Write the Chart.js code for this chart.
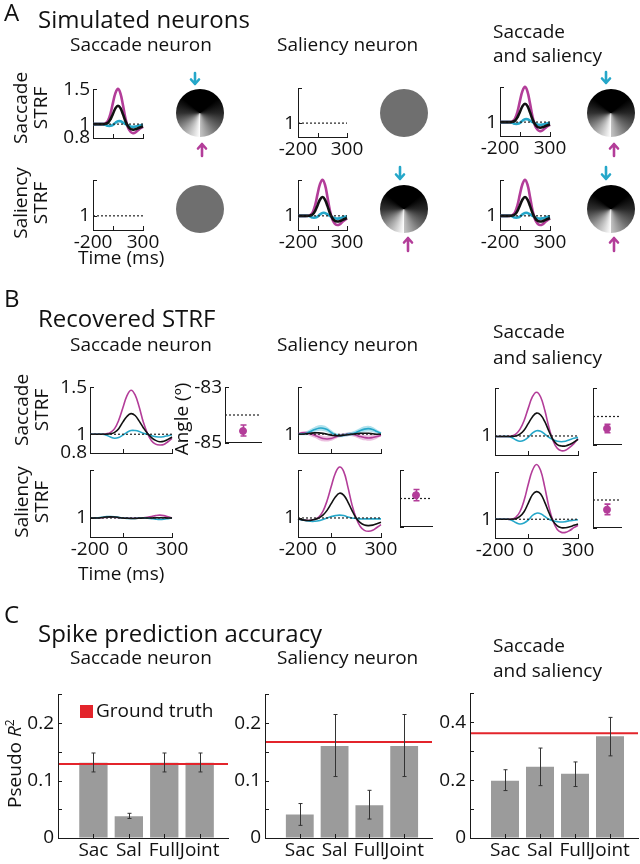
<!DOCTYPE html>
<html>
<head>
<meta charset="utf-8">
<script src="https://cdn.jsdelivr.net/npm/chart.js@4.4.1/dist/chart.umd.min.js"></script>
<style>
    body { margin: 0; width: 640px; height: 864px; position: relative; overflow: hidden; background: #fff;
           font-family: 'Open Sans', sans-serif; color: #111; }
    canvas { position: absolute; }
    .t { position: absolute; white-space: nowrap; line-height: 1; }
    .rot { position: absolute; white-space: nowrap; text-align: center; line-height: 1.05; transform: rotate(-90deg); }
</style>
</head>
<body>
<canvas id="deco" width="640" height="864" style="left:0;top:0"></canvas>
<script>
// ---- data ----
const strfTimes = [-200, -175, -150, -125, -100, -75, -50, -25, 0, 25, 50, 75, 100, 125, 150, 175, 200, 225, 250, 275, 300];
const refLevel = 1;
const strfYTicks = [0.8, 1, 1.5];
const strfXTicks = [-200, 0, 300];

// A: simulated kernels (same kernel in every tuned subplot)
const simMagenta = [1, 1, 1, 1, 1, 1.01, 1.05, 1.15, 1.31, 1.45, 1.51, 1.44, 1.27, 1.08, 0.95, 0.89, 0.87, 0.88, 0.91, 0.94, 0.96];
const simBlack = [1, 1, 1, 1, 1, 1.005, 1.02, 1.07, 1.15, 1.23, 1.265, 1.23, 1.14, 1.04, 0.97, 0.93, 0.92, 0.925, 0.94, 0.955, 0.97];
const simCyan = [1, 1, 1, 1, 1, 0.99, 0.975, 0.975, 0.99, 1.02, 1.04, 1.04, 1.02, 1.0, 0.98, 0.965, 0.96, 0.965, 0.975, 0.985, 0.99];

// B: recovered kernels
const recSacSacMagenta = [1, 1, 1, 1, 1.005, 1.02, 1.06, 1.15, 1.28, 1.41, 1.47, 1.42, 1.29, 1.13, 1.01, 0.93, 0.895, 0.885, 0.89, 0.92, 0.955];
const recSacSacBlack = [1, 1, 1, 1, 1, 1.005, 1.02, 1.06, 1.13, 1.19, 1.22, 1.2, 1.14, 1.07, 1.01, 0.965, 0.935, 0.92, 0.925, 0.945, 0.97];
const recSacSacCyan = [1, 1, 1, 1, 0.99, 0.97, 0.957, 0.965, 0.99, 1.02, 1.04, 1.04, 1.03, 1.01, 1.0, 0.985, 0.975, 0.97, 0.975, 0.985, 0.995];

const recSacSalMagenta = [1, 1, 1, 1.003, 1.006, 1.008, 1.006, 1.003, 1, 0.998, 0.997, 0.998, 1, 1.003, 1.008, 1.015, 1.025, 1.03, 1.025, 1.012, 1.0];
const recSacSalBlack = [1, 1, 1, 1.005, 1.01, 1.012, 1.01, 1.005, 1, 0.997, 0.995, 0.995, 0.997, 1, 1, 1, 1.002, 1.003, 1.002, 1, 1];
const recSacSalCyan = [1, 1, 1.003, 1.008, 1.014, 1.016, 1.013, 1.006, 1, 0.996, 0.994, 0.995, 0.998, 1, 0.998, 0.993, 0.988, 0.985, 0.987, 0.993, 1.0];

const recSalSacMagenta = [1.005, 1.015, 1.015, 1.005, 0.99, 0.97, 0.955, 0.95, 0.955, 0.97, 0.985, 0.995, 1.0, 1.0, 0.99, 0.975, 0.965, 0.96, 0.965, 0.975, 0.99];
const recSalSacBlack = [1.0, 1.0, 1.005, 1.01, 1.015, 1.015, 1.01, 1.0, 0.99, 0.985, 0.985, 0.99, 0.995, 1.0, 1.005, 1.01, 1.01, 1.01, 1.005, 1.0, 1.0];
const recSalSacCyan = [1.0, 1.005, 1.01, 1.03, 1.05, 1.065, 1.065, 1.05, 1.02, 0.995, 0.985, 0.99, 1.0, 1.005, 1.02, 1.04, 1.055, 1.06, 1.05, 1.03, 1.01];
const recSalSacSpread = [0.01, 0.015, 0.02, 0.025, 0.028, 0.03, 0.03, 0.028, 0.025, 0.02, 0.018, 0.018, 0.02, 0.022, 0.025, 0.028, 0.03, 0.03, 0.028, 0.022, 0.015];

const recSalSalMagenta = [0.99, 0.98, 0.975, 0.975, 0.985, 1.01, 1.07, 1.18, 1.33, 1.47, 1.535, 1.49, 1.33, 1.14, 1.0, 0.91, 0.87, 0.86, 0.87, 0.9, 0.93];
const recSalSalBlack = [0.99, 0.98, 0.975, 0.975, 0.985, 1.0, 1.03, 1.08, 1.15, 1.22, 1.26, 1.24, 1.17, 1.08, 1.0, 0.95, 0.925, 0.92, 0.925, 0.94, 0.955];
const recSalSalCyan = [0.99, 0.98, 0.97, 0.965, 0.965, 0.97, 0.985, 1.0, 1.015, 1.025, 1.03, 1.025, 1.01, 1.0, 0.995, 0.99, 0.99, 0.99, 0.99, 0.99, 0.99];

const recBothSacMagenta = [0.995, 0.995, 0.995, 0.995, 1.0, 1.02, 1.07, 1.16, 1.29, 1.41, 1.46, 1.41, 1.27, 1.09, 0.95, 0.87, 0.845, 0.85, 0.88, 0.92, 0.97];
const recBothSacBlack = [0.995, 0.995, 0.995, 0.995, 0.995, 1.0, 1.02, 1.06, 1.13, 1.2, 1.24, 1.22, 1.15, 1.05, 0.96, 0.91, 0.895, 0.895, 0.91, 0.935, 0.965];
const recBothSacCyan = [0.995, 0.995, 0.995, 0.995, 0.985, 0.96, 0.945, 0.955, 0.985, 1.03, 1.055, 1.05, 1.02, 0.985, 0.96, 0.945, 0.94, 0.945, 0.96, 0.975, 0.985];

const recBothSalMagenta = [1, 1, 1, 1, 1, 1.02, 1.08, 1.2, 1.37, 1.52, 1.585, 1.52, 1.34, 1.13, 0.98, 0.89, 0.86, 0.86, 0.88, 0.91, 0.935];
const recBothSalBlack = [1, 1, 1, 1, 1, 1.005, 1.03, 1.08, 1.17, 1.26, 1.295, 1.27, 1.18, 1.07, 0.98, 0.93, 0.91, 0.91, 0.92, 0.935, 0.95];
const recBothSalCyan = [1, 1, 1, 1, 0.99, 0.965, 0.95, 0.96, 0.99, 1.04, 1.065, 1.06, 1.03, 1.0, 0.985, 0.975, 0.97, 0.975, 0.985, 0.99, 0.995];

// B: recovered preferred angle (mean, low, high), true angle at -84
const angleLevel = -84;
const angleYTicks = [-85, -83];
const angleSacSac = [-84.58, -84.76, -84.36];
const angleSalSal = [-83.88, -84.08, -83.68];
const angleBothSac = [-84.43, -84.58, -84.28];
const angleBothSal = [-84.35, -84.53, -84.15];

// C: spike prediction accuracy
const barCats = ['Sac', 'Sal', 'Full', 'Joint'];
const sacR2 = [0.131, 0.038, 0.131, 0.131];
const sacR2Lo = [0.115, 0.034, 0.115, 0.115];
const sacR2Hi = [0.148, 0.043, 0.148, 0.148];
const sacTruth = 0.129;
const salR2 = [0.041, 0.160, 0.057, 0.160];
const salR2Lo = [0.022, 0.107, 0.033, 0.107];
const salR2Hi = [0.060, 0.215, 0.083, 0.215];
const salTruth = 0.167;
const bothR2 = [0.198, 0.246, 0.222, 0.352];
const bothR2Lo = [0.164, 0.181, 0.178, 0.284];
const bothR2Hi = [0.236, 0.311, 0.263, 0.417];
const bothTruth = 0.362;
const r2TicksSmall = [0, 0.05, 0.1, 0.15, 0.2, 0.25];
const r2TicksLarge = [0, 0.1, 0.2, 0.3, 0.4, 0.5];

const MAGENTA = '#b33d99';
const CYAN = '#25a7c9';
const AXIS = '#1a1a1a';

Chart.defaults.font.family = "'Open Sans', sans-serif";
Chart.defaults.font.size = 19;
Chart.defaults.color = '#111';

// inward tick marks, like the matlab axes
const inTicks = {
    id: 'inTicks',
    afterDatasetsDraw(chart, args, o) {
        const ctx = chart.ctx, a = chart.chartArea;
        ctx.save();
        ctx.strokeStyle = AXIS;
        ctx.lineWidth = 1;
        if (o.y !== false) {
            chart.scales.y.ticks.forEach(t => {
                const p = Math.round(chart.scales.y.getPixelForValue(t.value)) + 0.5;
                ctx.beginPath(); ctx.moveTo(a.left, p); ctx.lineTo(a.left + 4, p); ctx.stroke();
            });
        }
        if (o.x !== false) {
            chart.scales.x.ticks.forEach(t => {
                const p = Math.round(chart.scales.x.getPixelForValue(t.value)) + 0.5;
                ctx.beginPath(); ctx.moveTo(p, a.bottom); ctx.lineTo(p, a.bottom - 4); ctx.stroke();
            });
        }
        ctx.restore();
    }
};

// horizontal reference line + error bars
const extras = {
    id: 'extras',
    afterDatasetsDraw(chart, args, o) {
        const ctx = chart.ctx, a = chart.chartArea, xs = chart.scales.x, ys = chart.scales.y;
        ctx.save();
        if (o.truth !== undefined) {
            const y = ys.getPixelForValue(o.truth);
            ctx.strokeStyle = '#e3242b';
            ctx.lineWidth = 2;
            ctx.beginPath(); ctx.moveTo(a.left + 1, y); ctx.lineTo(a.right, y); ctx.stroke();
        }
        if (o.lo) {
            ctx.strokeStyle = o.color;
            ctx.lineWidth = o.width;
            o.at.forEach((xv, i) => {
                const x = Math.round(xs.getPixelForValue(xv)) + 0.5;
                const y1 = ys.getPixelForValue(o.lo[i]), y2 = ys.getPixelForValue(o.hi[i]);
                ctx.beginPath();
                ctx.moveTo(x, y1); ctx.lineTo(x, y2);
                ctx.moveTo(x - o.cap, y1); ctx.lineTo(x + o.cap, y1);
                ctx.moveTo(x - o.cap, y2); ctx.lineTo(x + o.cap, y2);
                ctx.stroke();
            });
        }
        ctx.restore();
    }
};

function makeCanvas(L, T, W, H, m) {
    const c = document.createElement('canvas');
    c.width = W + m.l + m.r;
    c.height = H + m.t + m.b;
    c.style.left = (L - m.l) + 'px';
    c.style.top = (T - m.t) + 'px';
    document.body.appendChild(c);
    return c;
}

function axisOpts(m, side, o) {
    return Object.assign({
        type: 'linear',
        afterFit: s => { if (side === 'x') s.height = m.b; else s.width = m.l; },
        grid: { display: true, drawOnChartArea: false, drawTicks: false },
        border: { display: true, color: AXIS, width: 1 },
    }, o);
}

function fixedTicks(vals, labels, pad) {
    return {
        afterBuildTicks: s => { s.ticks = vals.map(v => ({ value: v })); },
        ticks: { autoSkip: false, maxRotation: 0, padding: pad, callback: (v, i) => labels[i] }
    };
}

function strfChart(L, T, W, H, s) {
    const m = { l: 44, r: 22, t: 14, b: 28 };
    const cv = makeCanvas(L, T, W, H, m);
    const pts = arr => strfTimes.map((t, i) => ({ x: t, y: arr[i] }));
    const curve = (arr, color) => ({ data: pts(arr), borderColor: color, borderWidth: s.lw, tension: 0.4, pointRadius: 0, clip: false });
    const datasets = [
        { data: [{ x: -200, y: refLevel }, { x: 300, y: refLevel }], borderColor: '#222', borderWidth: 1.2, borderDash: [2, 2], pointRadius: 0 }
    ];
    if (s.blk) {
        datasets.push(curve(s.blk, '#111'), curve(s.cyn, CYAN), curve(s.mag, MAGENTA));
    }
    if (s.spread) {
        const band = (arr, sign) => arr.map((v, i) => v + sign * s.spread[i]);
        datasets.push(
            { data: pts(band(s.cyn, -1)), borderWidth: 0, pointRadius: 0, tension: 0.4 },
            { data: pts(band(s.cyn, 1)), borderWidth: 0, pointRadius: 0, tension: 0.4, fill: '-1', backgroundColor: 'rgba(80,190,215,0.45)' },
            { data: pts(band(s.mag, -1)), borderWidth: 0, pointRadius: 0, tension: 0.4 },
            { data: pts(band(s.mag, 1)), borderWidth: 0, pointRadius: 0, tension: 0.4, fill: '-1', backgroundColor: 'rgba(210,110,185,0.45)' }
        );
    }
    new Chart(cv, {
        type: 'line',
        data: { datasets },
        plugins: [inTicks],
        options: {
            responsive: false, animation: false, devicePixelRatio: 1,
            layout: { padding: { top: m.t, right: m.r, left: 0, bottom: 0 } },
            plugins: { legend: { display: false }, tooltip: { enabled: false } },
            scales: {
                x: axisOpts(m, 'x', Object.assign({ min: -200, max: 300 }, fixedTicks(strfXTicks, s.xLabels, 1))),
                y: axisOpts(m, 'y', Object.assign({ min: 0.8, max: 1.5 }, fixedTicks(strfYTicks, s.yLabels, 3)))
            }
        }
    });
}

function angleChart(L, T, W, H, vals, labels) {
    const m = { l: 44, r: 4, t: 14, b: 4 };
    const cv = makeCanvas(L, T, W, H, m);
    new Chart(cv, {
        type: 'line',
        data: {
            datasets: [
                { data: [{ x: 1, y: vals[0] }], showLine: false, pointRadius: 3.5, pointBackgroundColor: MAGENTA, pointBorderColor: MAGENTA },
                { data: [{ x: 0, y: angleLevel }, { x: 2, y: angleLevel }], borderColor: '#222', borderWidth: 1.2, borderDash: [2, 2], pointRadius: 0 }
            ]
        },
        plugins: [inTicks, extras],
        options: {
            responsive: false, animation: false, devicePixelRatio: 1,
            layout: { padding: { top: m.t, right: m.r, left: 0, bottom: 0 } },
            plugins: {
                legend: { display: false }, tooltip: { enabled: false },
                inTicks: { x: false },
                extras: { at: [1], lo: [vals[1]], hi: [vals[2]], color: MAGENTA, width: 1.6, cap: 3 }
            },
            scales: {
                x: axisOpts(m, 'x', Object.assign({ min: 0, max: 2 }, fixedTicks([0, 2], ['', ''], 0))),
                y: axisOpts(m, 'y', Object.assign({ min: -85, max: -83 }, fixedTicks(angleYTicks, labels, 3)))
            }
        }
    });
}

function barChart(L, T, W, H, vals, lo, hi, truth, yTicks, yLabels) {
    const m = { l: 50, r: 4, t: 14, b: 30 };
    const cv = makeCanvas(L, T, W, H, m);
    new Chart(cv, {
        type: 'bar',
        data: {
            datasets: [{
                data: vals.map((v, i) => ({ x: i + 1, y: v })),
                backgroundColor: '#9b9b9b', barPercentage: 0.8, categoryPercentage: 1
            }]
        },
        plugins: [inTicks, extras],
        options: {
            responsive: false, animation: false, devicePixelRatio: 1,
            layout: { padding: { top: m.t, right: m.r, left: 0, bottom: 0 } },
            plugins: {
                legend: { display: false }, tooltip: { enabled: false },
                extras: { truth, at: [1, 2, 3, 4], lo, hi, color: '#333', width: 1, cap: 2 }
            },
            scales: {
                x: axisOpts(m, 'x', Object.assign({ min: 0, max: 4.8, offset: false }, fixedTicks([1, 2, 3, 4], barCats, 1))),
                y: axisOpts(m, 'y', Object.assign({ min: 0, max: yTicks[yTicks.length - 1] }, fixedTicks(yTicks, yLabels, 4)))
            }
        }
    });
}

// ---- text ----
function txt(html, x, base, size) {
    const d = document.createElement('div');
    d.className = 't';
    d.innerHTML = html;
    d.style.fontSize = size + 'px';
    d.style.left = x + 'px';
    d.style.top = (base - 0.888 * size) + 'px';
    document.body.appendChild(d);
}
function rot(html, cx, cy, size) {
    const d = document.createElement('div');
    d.className = 'rot';
    d.innerHTML = html;
    d.style.fontSize = size + 'px';
    document.body.appendChild(d);
    d.style.left = (cx - d.offsetWidth / 2) + 'px';
    d.style.top = (cy - d.offsetHeight / 2) + 'px';
}

const colTitles = (b1, b2, b3, b4) => {
    txt('Saccade neuron', 70, b1, 19);
    txt('Saliency neuron', 277, b1, 19);
    txt('Saccade', 493, b2, 19);
    txt('and saliency', 493, b3, 19);
};

txt('A', 4, 21, 24);
txt('Simulated neurons', 38, 28, 24);
colTitles(52, 39, 63);
rot('Saccade<br>STRF', 31, 108, 19);
rot('Saliency<br>STRF', 31, 203, 19);
txt('Time (ms)', 78, 265, 19);

txt('B', 4, 307, 24);
txt('Recovered STRF', 38, 327, 24);
colTitles(352, 339, 365);
rot('Saccade<br>STRF', 32, 410, 19);
rot('Saliency<br>STRF', 32, 502, 19);
rot('Angle (º)', 182, 419, 19);
txt('Time (ms)', 78, 581, 19);

txt('C', 4, 623, 24);
txt('Spike prediction accuracy', 38, 642, 24);
colTitles(665, 653, 678);
rot('Pseudo <i>R</i><sup style="font-size:12px">2</sup>', 14, 763, 19);
const key = document.createElement('div');
key.style.cssText = 'position:absolute;left:80px;top:705px;width:13px;height:13px;background:#e3242b';
document.body.appendChild(key);
txt('Ground truth', 96, 718, 19);

// ---- panel A ----
const noLab = ['', '', ''];
const oneLab = ['', '1', ''];
const fullLab = ['0.8', '1', '1.5'];
const xLabA = ['-200', '', '300'];
const xLabB = ['-200', '0', '300'];
const A = { lw: 2.6 };
strfChart(93, 89, 50, 49, Object.assign({ mag: simMagenta, blk: simBlack, cyn: simCyan, yLabels: fullLab, xLabels: noLab }, A));
strfChart(93, 180, 50, 50, Object.assign({ yLabels: oneLab, xLabels: xLabA }, A));
strfChart(298, 88, 49, 49, Object.assign({ yLabels: oneLab, xLabels: xLabA }, A));
strfChart(298, 180, 49, 50, Object.assign({ mag: simMagenta, blk: simBlack, cyn: simCyan, yLabels: oneLab, xLabels: xLabA }, A));
strfChart(500, 87, 50, 49, Object.assign({ mag: simMagenta, blk: simBlack, cyn: simCyan, yLabels: oneLab, xLabels: xLabA }, A));
strfChart(500, 180, 50, 50, Object.assign({ mag: simMagenta, blk: simBlack, cyn: simCyan, yLabels: oneLab, xLabels: xLabA }, A));

// ---- panel B ----
const B = { lw: 1.6 };
strfChart(90, 387, 82, 66, Object.assign({ mag: recSacSacMagenta, blk: recSacSacBlack, cyn: recSacSacCyan, yLabels: fullLab, xLabels: noLab }, B));
strfChart(90, 470, 82, 67, Object.assign({ mag: recSacSalMagenta, blk: recSacSalBlack, cyn: recSacSalCyan, yLabels: oneLab, xLabels: xLabB }, B));
strfChart(298, 387, 83, 66, Object.assign({ mag: recSalSacMagenta, blk: recSalSacBlack, cyn: recSalSacCyan, spread: recSalSacSpread, yLabels: oneLab, xLabels: noLab }, B));
strfChart(298, 470, 83, 67, Object.assign({ mag: recSalSalMagenta, blk: recSalSalBlack, cyn: recSalSalCyan, yLabels: oneLab, xLabels: xLabB }, B));
strfChart(495, 388, 83, 67, Object.assign({ mag: recBothSacMagenta, blk: recBothSacBlack, cyn: recBothSacCyan, yLabels: oneLab, xLabels: noLab }, B));
strfChart(495, 472, 83, 66, Object.assign({ mag: recBothSalMagenta, blk: recBothSalBlack, cyn: recBothSalCyan, yLabels: oneLab, xLabels: xLabB }, B));

angleChart(225, 387, 37, 66, angleSacSac, ['-85', '-83']);
angleChart(400, 470, 33, 67, angleSalSal, ['', '']);
angleChart(593, 388, 29, 67, angleBothSac, ['', '']);
angleChart(593, 472, 29, 66, angleBothSal, ['', '']);

// ---- panel C ----
const smallLab = ['0', '', '0.1', '', '0.2', ''];
const largeLab = ['0', '', '0.2', '', '0.4', ''];
barChart(58, 693, 170, 145, sacR2, sacR2Lo, sacR2Hi, sacTruth, r2TicksSmall, smallLab);
barChart(265, 693, 167, 145, salR2, salR2Lo, salR2Hi, salTruth, r2TicksSmall, smallLab);
barChart(470, 692, 168, 146, bothR2, bothR2Lo, bothR2Hi, bothTruth, r2TicksLarge, largeLab);

// ---- stimulus disks and arrows (panel A) ----
const dc = document.getElementById('deco').getContext('2d');
function disk(cx, cy, tuned) {
    dc.beginPath();
    dc.arc(cx, cy, 24, 0, Math.PI * 2);
    if (tuned) {
        const g = dc.createConicGradient(Math.PI / 2, cx, cy);
        g.addColorStop(0, '#ffffff');
        g.addColorStop(0.12, '#a0a0a0');
        g.addColorStop(0.25, '#303030');
        g.addColorStop(0.36, '#000');
        g.addColorStop(0.64, '#000');
        g.addColorStop(0.75, '#262626');
        g.addColorStop(0.88, '#707070');
        g.addColorStop(1, '#c4c4c4');
        dc.fillStyle = g;
    } else {
        dc.fillStyle = '#6f6f6f';
    }
    dc.fill();
}
function arrow(x, y0, y1, color) {
    const d = y1 > y0 ? 1 : -1;
    dc.strokeStyle = color;
    dc.lineWidth = 2.6;
    dc.lineCap = 'round';
    dc.lineJoin = 'round';
    dc.beginPath();
    dc.moveTo(x, y0); dc.lineTo(x, y1);
    dc.moveTo(x - 4, y1 - d * 4.5); dc.lineTo(x, y1); dc.lineTo(x + 4, y1 - d * 4.5);
    dc.stroke();
}
disk(200, 113, true);
disk(200, 209, false);
disk(404, 113, false);
disk(404, 209, true);
disk(611, 113, true);
disk(611, 209, true);
arrow(195, 73, 84, CYAN); arrow(202, 156, 144, MAGENTA);
arrow(400, 167, 179, CYAN); arrow(408, 251, 238, MAGENTA);
arrow(606, 72, 83, CYAN); arrow(614, 156, 144, MAGENTA);
arrow(606, 167, 179, CYAN); arrow(614, 251, 238, MAGENTA);
</script>
</body>
</html>
